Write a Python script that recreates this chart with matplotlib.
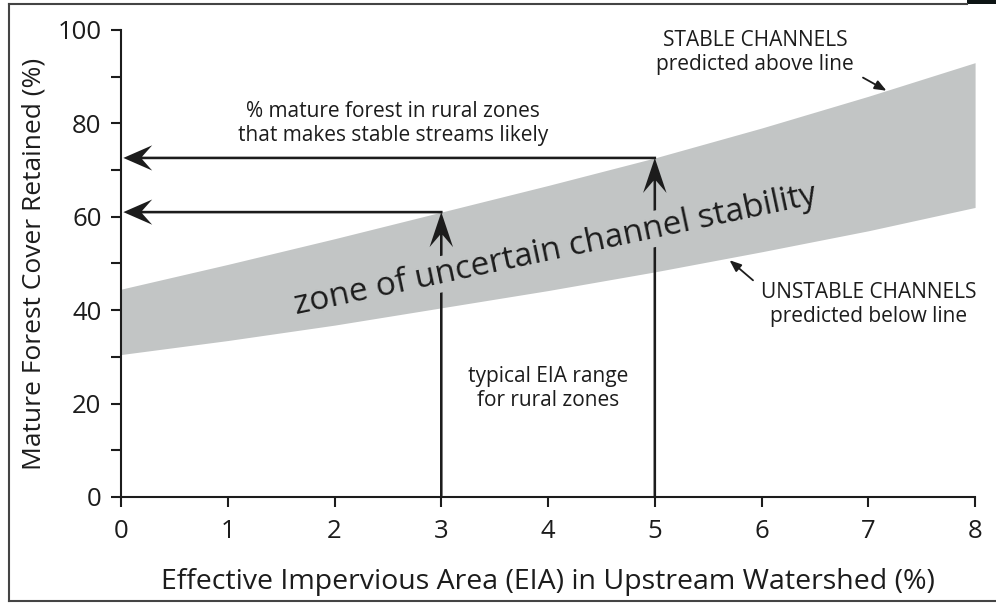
import numpy as np
import matplotlib.pyplot as plt
from matplotlib.lines import Line2D
from matplotlib.patches import Rectangle


# ------------------------------------------------------------
# Channel stability envelope (EIA % vs. mature forest cover %)
# ------------------------------------------------------------

eia = [0, 1, 2, 3, 4, 5, 6, 7, 8]
cover_upper = [44.5, 49.8, 55.3, 61.0, 66.7, 72.6, 79.0, 85.8, 93.0]
cover_lower = [30.5, 33.5, 36.8, 40.5, 44.2, 48.2, 52.5, 57.0, 62.0]

# typical EIA range for rural zones
rural_eia = [3, 5]

x_ticks = [0, 1, 2, 3, 4, 5, 6, 7, 8]
y_ticks = [0, 20, 40, 60, 80, 100]
y_minor = [10, 30, 50, 70, 90]

BAND = "#c2c5c5"
INK = "#1c1c1c"
NOTE_SIZE = 15

plt.rcParams["font.family"] = ["Open Sans", "DejaVu Sans"]

fig = plt.figure(figsize=(9.96, 6.03), dpi=100)
ax = fig.add_axes([0.1215, 0.1758, 0.8575, 0.7745])

ax.fill_between(eia, cover_lower, cover_upper, color=BAND, lw=0, zorder=1)

# arrows from the rural EIA range up to the upper line, then across to the axis
target = np.interp(rural_eia, eia, cover_upper)
for x_val, y_val in zip(rural_eia, target):
    ax.arrow(x_val, 0, 0, y_val, width=0.024, head_width=0.22, head_length=7.5,
             overhang=0.35, length_includes_head=True, color=INK, lw=0, zorder=3)
    ax.arrow(x_val + 0.012, y_val, -(x_val - eia[0]) + 0.01, 0, width=0.55,
             head_width=5.4, head_length=0.27, overhang=0.35,
             length_includes_head=True, color=INK, lw=0, zorder=3)

# band label sits on a band-coloured box so it breaks the arrow shafts
ax.text(4.07, 52.9, "zone of uncertain channel stability", fontsize=24,
        rotation=12, ha="center", va="center", color=INK, zorder=5,
        rotation_mode="anchor",
        bbox=dict(facecolor=BAND, edgecolor="none", pad=1))

ax.text(2.55, 79.9, "% mature forest in rural zones\nthat makes stable streams likely",
        fontsize=NOTE_SIZE, ha="center", va="center", color=INK, linespacing=1.2)
ax.text(4.0, 23.3, "typical EIA range\nfor rural zones", fontsize=NOTE_SIZE,
        ha="center", va="center", color=INK, linespacing=1.2)
ax.text(5.94, 95.2, "STABLE CHANNELS\npredicted above line", fontsize=NOTE_SIZE,
        ha="center", va="center", color=INK, linespacing=1.2)
ax.text(7.0, 41.3, "UNSTABLE CHANNELS\npredicted below line", fontsize=NOTE_SIZE,
        ha="center", va="center", color=INK, linespacing=1.2)

ax.annotate("", xy=(7.17, 87.0), xytext=(6.95, 89.8),
            arrowprops=dict(arrowstyle="-|>,head_length=0.7,head_width=0.28",
                            color=INK, lw=1.3, shrinkA=0, shrinkB=0))
ax.annotate("", xy=(5.7, 50.7), xytext=(5.92, 46.4),
            arrowprops=dict(arrowstyle="-|>,head_length=0.7,head_width=0.28",
                            color=INK, lw=1.3, shrinkA=0, shrinkB=0))

ax.set_xlim(0, 8)
ax.set_ylim(0, 100)
ax.set_xticks(x_ticks)
ax.set_yticks(y_ticks)
ax.set_yticks(y_minor, minor=True)
ax.tick_params(axis="both", which="both", direction="out", length=7, width=1.5,
               color=INK, labelcolor=INK, labelsize=18.5)
ax.tick_params(axis="x", pad=9)
ax.tick_params(axis="y", pad=7)

for side in ["top", "right"]:
    ax.spines[side].set_visible(False)
for side in ["left", "bottom"]:
    ax.spines[side].set_linewidth(1.5)
    ax.spines[side].set_color(INK)

ax.set_xlabel("Effective Impervious Area (EIA) in Upstream Watershed (%)",
              fontsize=20.5, color=INK, labelpad=17)
ax.set_ylabel("Mature Forest Cover Retained (%)", fontsize=19, color=INK,
              labelpad=8)

# page frame
frame = dict(color="#444444", lw=1.5, transform=fig.transFigure)
fig.add_artist(Line2D([0.0095, 0.0095], [0.0035, 0.9934], **frame))
fig.add_artist(Line2D([0.0095, 0.971], [0.9934, 0.9934], **frame))
fig.add_artist(Line2D([0.0095, 1.0], [0.0035, 0.0035], **frame))
fig.add_artist(Rectangle((0.971, 0.9934), 0.029, 0.0066, facecolor="#0d1414",
                         edgecolor="none", transform=fig.transFigure))

fig.savefig("out.png", dpi=100)
